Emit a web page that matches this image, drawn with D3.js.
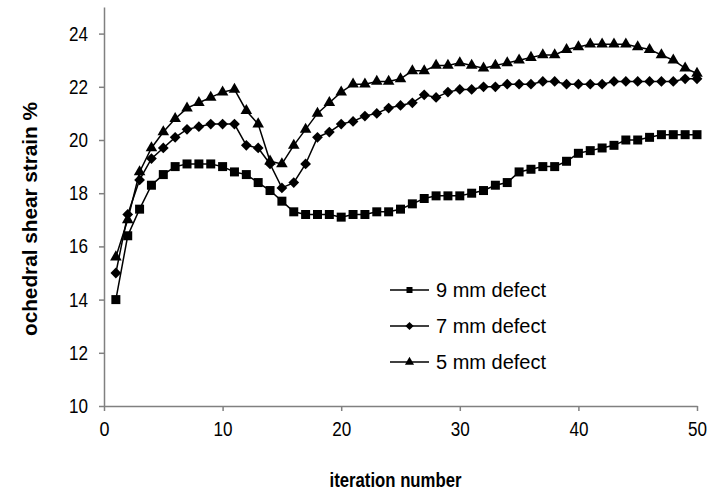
<!DOCTYPE html>
<html>
<head>
<meta charset="utf-8">
<script src="https://cdn.jsdelivr.net/npm/d3@7"></script>
<style>
  body { margin: 0; background: #fff; }
  svg text { font-family: "Liberation Sans", Arial, sans-serif; }
</style>
</head>
<body>
<div id="chart"></div>
<script>
const iterations = d3.range(1, 51);

const defect9 = [14.0,16.4,17.4,18.3,18.7,19.0,19.1,19.1,19.1,19.0,18.8,18.7,18.4,18.1,17.7,17.3,17.2,17.2,17.2,17.1,
  17.2,17.2,17.3,17.3,17.4,17.6,17.8,17.9,17.9,17.9,18.0,18.1,18.3,18.4,18.8,18.9,19.0,19.0,19.2,19.5,
  19.6,19.7,19.8,20.0,20.0,20.1,20.2,20.2,20.2,20.2];
const defect7 = [15.0,17.2,18.5,19.3,19.7,20.1,20.4,20.5,20.6,20.6,20.6,19.8,19.7,19.1,18.2,18.4,19.1,20.1,20.3,20.6,
  20.7,20.9,21.0,21.2,21.3,21.4,21.7,21.6,21.8,21.9,21.9,22.0,22.0,22.1,22.1,22.1,22.2,22.2,22.1,22.1,
  22.1,22.1,22.2,22.2,22.2,22.2,22.2,22.2,22.3,22.3];
const defect5 = [15.6,17.0,18.8,19.7,20.3,20.8,21.2,21.4,21.6,21.8,21.9,21.1,20.6,19.2,19.1,19.8,20.4,21.0,21.4,21.8,
  22.1,22.1,22.2,22.2,22.3,22.6,22.6,22.8,22.8,22.9,22.8,22.7,22.8,22.9,23.0,23.1,23.2,23.2,23.4,23.5,
  23.6,23.6,23.6,23.6,23.5,23.4,23.2,23.0,22.7,22.5];

const seriesNames = ['9 mm defect', '7 mm defect', '5 mm defect'];
const xTicks = [0, 10, 20, 30, 40, 50];
const yTicks = [10, 12, 14, 16, 18, 20, 22, 24];

const width = 710, height = 497;
const margin = { top: 7, right: 13, bottom: 91, left: 104 };
const innerW = width - margin.left - margin.right;
const innerH = height - margin.top - margin.bottom;

const svg = d3.select('#chart').append('svg')
  .attr('width', width)
  .attr('height', height);

const g = svg.append('g')
  .attr('transform', `translate(${margin.left},${margin.top})`);

const x = d3.scaleLinear().domain([0, 50]).range([0, innerW]);
const y = d3.scaleLinear().domain([10, 25]).range([innerH, 0]);

// axes
const xAxis = g.append('g')
  .attr('transform', `translate(0,${innerH})`)
  .call(d3.axisBottom(x).tickValues(xTicks).tickSize(5).tickPadding(11).tickSizeOuter(0));
const yAxis = g.append('g')
  .call(d3.axisLeft(y).tickValues(yTicks).tickSize(5).tickPadding(11).tickSizeOuter(0));

[xAxis, yAxis].forEach(a => {
  a.selectAll('path, line').attr('stroke', '#808080').attr('stroke-width', 1.5);
  a.selectAll('text').attr('fill', '#000')
    .style('font-size', '20px')
    .attr('textLength', 19)
    .attr('lengthAdjust', 'spacingAndGlyphs');
});
xAxis.selectAll('text').filter(d => d === 0).attr('textLength', 10);

// axis titles (the original font is a condensed one)
g.append('text')
  .attr('x', innerW / 2 - 5)
  .attr('y', innerH + 81)
  .attr('text-anchor', 'middle')
  .attr('textLength', 132)
  .attr('lengthAdjust', 'spacingAndGlyphs')
  .style('font-size', '20.5px')
  .style('font-weight', 'bold')
  .text('iteration number');
g.append('text')
  .attr('transform', 'rotate(-90)')
  .attr('x', -212)
  .attr('y', -67)
  .attr('text-anchor', 'middle')
  .attr('textLength', 234)
  .attr('lengthAdjust', 'spacingAndGlyphs')
  .style('font-size', '20.5px')
  .style('font-weight', 'bold')
  .text('ochedral shear strain %');

// square-on diamond (d3's own diamond is tall and narrow)
const symbolRhomb = {
  draw(ctx, size) {
    const r = Math.sqrt(size / 2);
    ctx.moveTo(0, -r);
    ctx.lineTo(r, 0);
    ctx.lineTo(0, r);
    ctx.lineTo(-r, 0);
    ctx.closePath();
  }
};

const symbols = [d3.symbolSquare, symbolRhomb, d3.symbolTriangle];
const sizes = [81, 58, 58];
const legendSizes = [36, 34, 36];
const allData = [defect9, defect7, defect5];

const line = d3.line()
  .x((d, i) => x(iterations[i]))
  .y(d => y(d));

allData.forEach((vals, k) => {
  g.append('path')
    .datum(vals)
    .attr('fill', 'none')
    .attr('stroke', '#000')
    .attr('stroke-width', 1.5)
    .attr('d', line);
  g.selectAll(null)
    .data(vals)
    .enter().append('path')
    .attr('transform', (d, i) => `translate(${x(iterations[i])},${y(d)})`)
    .attr('d', d3.symbol().type(symbols[k]).size(sizes[k]))
    .attr('fill', '#000');
});

// legend
const legend = svg.append('g').attr('transform', 'translate(390,290)');
seriesNames.forEach((name, k) => {
  const row = legend.append('g').attr('transform', `translate(0,${k * 36})`);
  row.append('line')
    .attr('x1', 0).attr('x2', 39)
    .attr('y1', 0).attr('y2', 0)
    .attr('stroke', '#000')
    .attr('stroke-width', 1.5);
  row.append('path')
    .attr('transform', 'translate(19.5,0)')
    .attr('d', d3.symbol().type(symbols[k]).size(legendSizes[k]))
    .attr('fill', '#000');
  row.append('text')
    .attr('x', 46)
    .attr('y', 7)
    .style('font-size', '20px')
    .text(name);
});
</script>
</body>
</html>
